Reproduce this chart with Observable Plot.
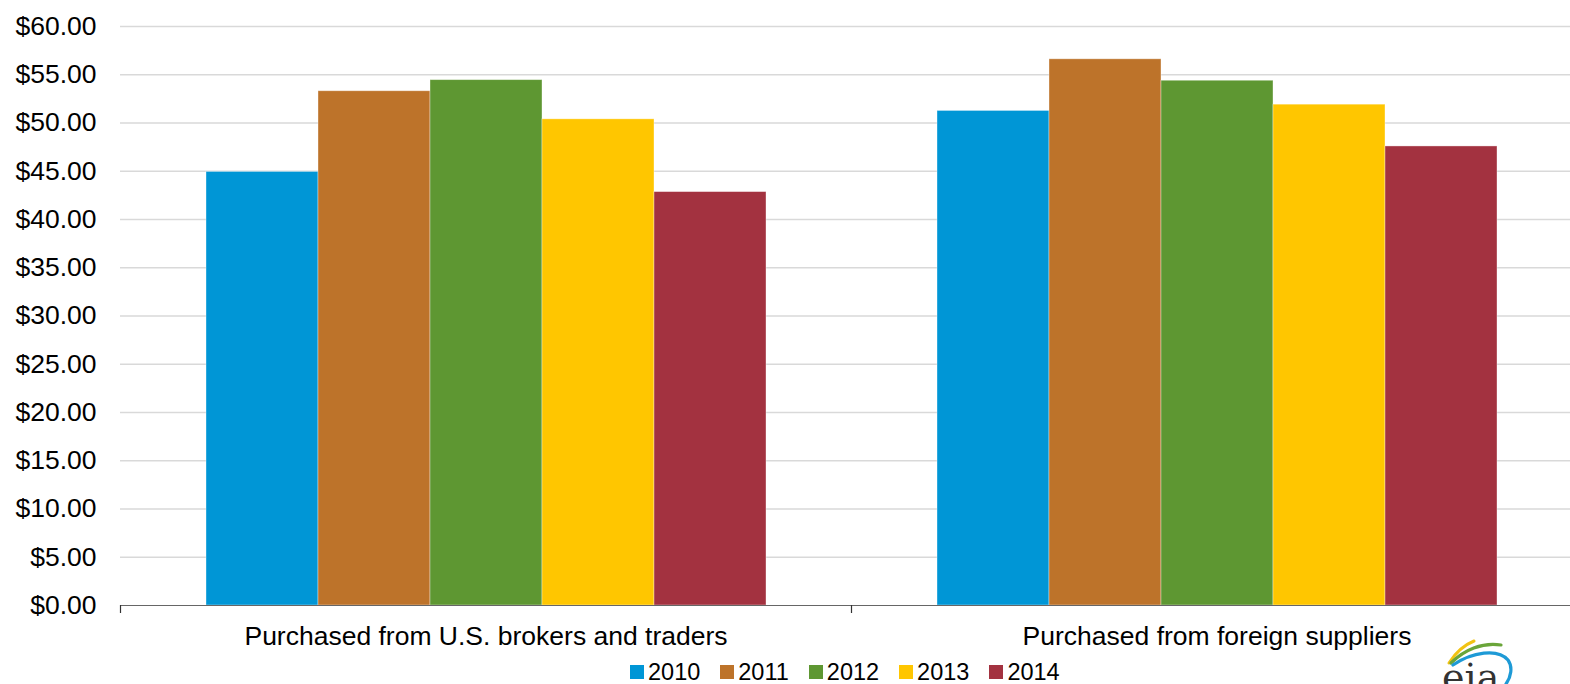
<!DOCTYPE html>
<html>
<head>
<meta charset="utf-8">
<script src="https://cdn.jsdelivr.net/npm/d3@7"></script>
<script src="https://cdn.jsdelivr.net/npm/@observablehq/plot@0.6"></script>
<style>
  html, body { margin: 0; padding: 0; background: #fff; overflow: hidden; width: 1570px; height: 684px; }
  #wrap { position: relative; width: 1570px; height: 684px; overflow: hidden; }
  #wrap svg { max-width: none !important; display: block; }
  #legend { position: absolute; left: 630px; top: 660px; display: flex; align-items: center;
            font-family: "Liberation Sans", Arial, sans-serif; font-size: 23.5px; line-height: 24px; color: #000; }
  #legend .item { display: flex; align-items: center; margin-right: 20px; }
  #legend .sw { width: 14px; height: 14px; margin-right: 4px; }
  #logo { position: absolute; left: 1420px; top: 620px; width: 150px; height: 64px; overflow: hidden; }
</style>
</head>
<body>
<div id="wrap"></div>
<script>
// ---- data ----
const groups = ["Purchased from U.S. brokers and traders", "Purchased from foreign suppliers"];
const years = ["2010", "2011", "2012", "2013", "2014"];
const usBrokersTraders = [44.93, 53.29, 54.44, 50.38, 42.84];
const foreignSuppliers = [51.25, 56.60, 54.38, 51.90, 47.57];
const yTicks = [0, 5, 10, 15, 20, 25, 30, 35, 40, 45, 50, 55, 60];
const yearColors = ["#0096d6", "#bd732a", "#5e9732", "#ffc600", "#a33240"];

const rows = [];
years.forEach((yr, i) => rows.push({group: groups[0], year: yr, value: usBrokersTraders[i]}));
years.forEach((yr, i) => rows.push({group: groups[1], year: yr, value: foreignSuppliers[i]}));

const plot = Plot.plot({
  width: 1582,
  height: 650,
  marginTop: 26,
  marginBottom: 45,
  marginLeft: 120,
  marginRight: 0,
  style: {fontFamily: "'Liberation Sans', Arial, sans-serif", fontSize: "26.5px", color: "#000", background: "transparent", maxWidth: "none"},
  fx: {domain: groups, padding: 0, label: null, axis: null},
  x: {domain: years, paddingInner: 0, paddingOuter: 0.75, axis: null},
  y: {domain: [0, 60], label: null},
  color: {domain: years, range: yearColors},
  marks: [
    Plot.gridY(yTicks.filter(d => d > 0), {stroke: "#d9d9d9", strokeOpacity: 1, strokeWidth: 1.3}),
    Plot.barY(rows, {fx: "group", x: "year", y: "value", fill: "year", stroke: "#ffffff", strokeOpacity: 0.45, strokeWidth: 0.8, inset: 0}),
    Plot.ruleY([0], {stroke: "#666666", strokeWidth: 1.2}),
    Plot.axisY(yTicks, {tickSize: 0, tickPadding: 24, tickFormat: d => "$" + d.toFixed(2), fill: "#000"}),
    Plot.axisFx({anchor: "bottom", tickSize: 0, tickPadding: 21, fill: "#000", label: null})
  ]
});

// boundary tick marks at the category band edges, taken from the fx scale
const fx = plot.scale("fx");
const yScale = plot.scale("y");
const y0 = yScale.apply(0);
const edges = groups.map(g => fx.apply(g));
const svg = d3.select(plot);
svg.append("g").selectAll("line").data(edges).join("line")
  .attr("x1", d => d + 0.5).attr("x2", d => d + 0.5)
  .attr("y1", y0).attr("y2", y0 + 8)
  .attr("stroke", "#333").attr("stroke-width", 1.2);

const wrap = document.getElementById("wrap");
wrap.appendChild(plot);

// legend
const legend = document.createElement("div");
legend.id = "legend";
years.forEach((yr, i) => {
  const item = document.createElement("div");
  item.className = "item";
  const sw = document.createElement("span");
  sw.className = "sw";
  sw.style.background = yearColors[i];
  const t = document.createElement("span");
  t.textContent = yr;
  item.appendChild(sw); item.appendChild(t);
  legend.appendChild(item);
});
wrap.appendChild(legend);

// eia logo (decorative)
const logo = document.createElement("div");
logo.id = "logo";
logo.innerHTML = `<svg width="150" height="64" viewBox="0 0 150 64">
  <path d="M29,43 C36,32 44,25 54,21" fill="none" stroke="#f2c313" stroke-width="3" stroke-linecap="round"/>
  <path d="M31,43 C44,30 62,22 81,25" fill="none" stroke="#6aa539" stroke-width="3.2" stroke-linecap="round"/>
  <path d="M33,45 C52,32 78,28 88,40 C93,47 91,57 86,64" fill="none" stroke="#1e9ad6" stroke-width="3.2" stroke-linecap="round"/>
  <text x="22" y="70" font-family="'DejaVu Serif', 'Liberation Serif', serif" font-size="38" fill="#333">eia</text>
</svg>`;
wrap.appendChild(logo);
</script>
</body>
</html>
